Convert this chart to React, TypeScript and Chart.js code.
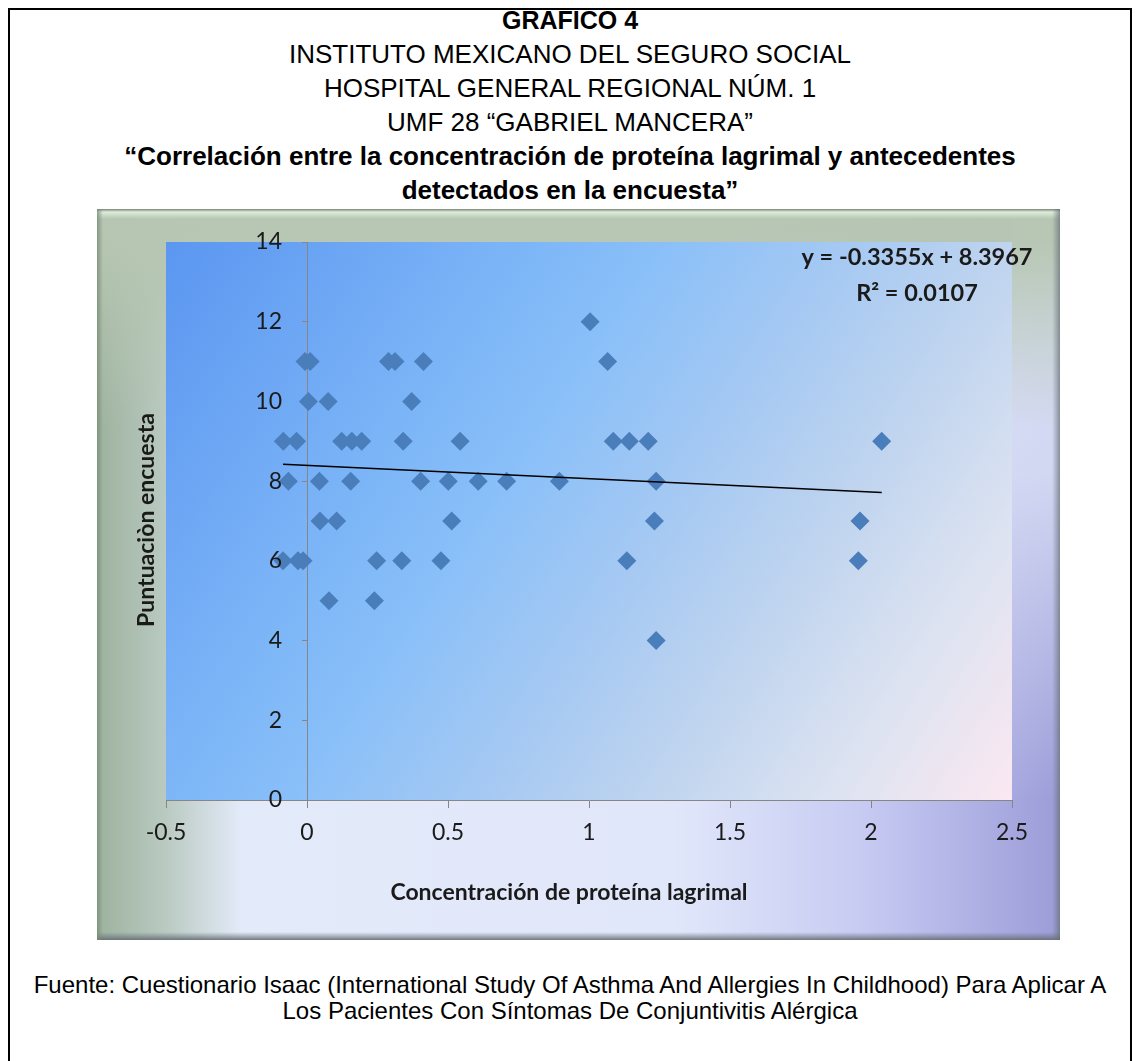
import React, { useEffect, useRef } from 'react';
import { Chart, registerables } from 'chart.js';

Chart.register(...registerables);

// ---- data ----
const concentracion: number[] = [
  -0.084, -0.037, 0.123, 0.159, 0.194, 0.341, 0.543, 1.086, 1.143, 1.21, 2.038,
  -0.066, 0.044, 0.155, 0.403, 0.501, 0.607, 0.708, 0.895, 1.238,
  0.046, 0.105, 0.513, 1.232, 1.961,
  -0.085, -0.032, -0.014, 0.247, 0.336, 0.475, 1.134, 1.955,
  0.078, 0.239,
  1.238,
  -0.007, 0.011, 0.289, 0.312, 0.413, 1.066,
  0.005, 0.075, 0.371,
  1.004,
];
const puntuacion: number[] = [
  9, 9, 9, 9, 9, 9, 9, 9, 9, 9, 9,
  8, 8, 8, 8, 8, 8, 8, 8, 8,
  7, 7, 7, 7, 7,
  6, 6, 6, 6, 6, 6, 6, 6,
  5, 5,
  4,
  11, 11, 11, 11, 11, 11,
  10, 10, 10,
  12,
];
const trendSlope = -0.3355;
const trendIntercept = 8.3967;
const equationLines = ['y = -0.3355x + 8.3967', 'R\u00B2 = 0.0107'];

const xTickValues = [-0.5, 0, 0.5, 1, 1.5, 2, 2.5];
const yTickValues = [0, 2, 4, 6, 8, 10, 12, 14];
const yTickLabels = ['0', '2', '4', '6', '8', '10', '12', '14'];

const xTitle = 'Concentración de proteína lagrimal';
const yTitle = 'Puntuaciòn encuesta';

const titleLines = [
  { text: 'GRAFICO 4', bold: true, size: 25 },
  { text: 'INSTITUTO MEXICANO DEL SEGURO SOCIAL', bold: false, size: 26 },
  { text: 'HOSPITAL GENERAL REGIONAL NÚM. 1', bold: false, size: 26 },
  { text: 'UMF 28 “GABRIEL MANCERA”', bold: false, size: 26 },
  { text: '“Correlación entre la concentración de proteína lagrimal y antecedentes', bold: true, size: 26 },
  { text: 'detectados en la encuesta”', bold: true, size: 26 },
];
const footerLines = [
  'Fuente: Cuestionario Isaac (International Study Of Asthma And Allergies In Childhood) Para Aplicar A',
  'Los Pacientes Con Síntomas De Conjuntivitis Alérgica',
];

const CHART_FONT = 'Lato, "Open Sans", sans-serif';
const PAGE_FONT = '"Liberation Sans", Arial, sans-serif';

const framePlugin = {
  id: 'frameBg',
  beforeDraw(chart: any) {
    const { ctx, width, height, chartArea: a } = chart;
    ctx.save();
    // base: green-grey at left, pale blue-white across, periwinkle at right
    let g = ctx.createLinearGradient(0, 0, width, 0);
    g.addColorStop(0, '#9db29e');
    g.addColorStop(0.07, '#b9c9c0');
    g.addColorStop(0.15, '#e3eaf9');
    g.addColorStop(0.6, '#e1e7fa');
    g.addColorStop(0.8, '#c6caf2');
    g.addColorStop(1, '#9c9cd8');
    ctx.fillStyle = g;
    ctx.fillRect(0, 0, width, height);
    // right band: lighter higher up
    g = ctx.createLinearGradient(0, 0, 0, a.bottom);
    g.addColorStop(0, 'rgba(222,229,248,0.95)');
    g.addColorStop(0.45, 'rgba(222,229,248,0.8)');
    g.addColorStop(1, 'rgba(222,229,248,0)');
    ctx.fillStyle = g;
    ctx.fillRect(a.right, 0, width - a.right, a.bottom);
    // top band
    g = ctx.createLinearGradient(0, 0, 0, height);
    g.addColorStop(0, 'rgba(182,198,178,1)');
    g.addColorStop(0.05, 'rgba(182,198,178,0.95)');
    g.addColorStop(0.3, 'rgba(182,198,178,0)');
    ctx.fillStyle = g;
    ctx.fillRect(0, 0, width, height);
    // bevel edges
    g = ctx.createLinearGradient(0, 0, 0, 10);
    g.addColorStop(0, 'rgba(120,132,120,1)');
    g.addColorStop(0.3, 'rgba(222,236,218,1)');
    g.addColorStop(1, 'rgba(222,236,218,0)');
    ctx.fillStyle = g;
    ctx.fillRect(0, 0, width, 10);
    g = ctx.createLinearGradient(0, height - 8, 0, height);
    g.addColorStop(0, 'rgba(110,120,130,0)');
    g.addColorStop(1, 'rgba(100,110,115,0.9)');
    ctx.fillStyle = g;
    ctx.fillRect(0, height - 8, width, 8);
    g = ctx.createLinearGradient(width - 8, 0, width, 0);
    g.addColorStop(0, 'rgba(110,120,130,0)');
    g.addColorStop(1, 'rgba(100,110,115,0.7)');
    ctx.fillStyle = g;
    ctx.fillRect(width - 8, 0, 8, height);
    g = ctx.createLinearGradient(0, 0, 6, 0);
    g.addColorStop(0, 'rgba(120,140,120,0.8)');
    g.addColorStop(1, 'rgba(120,140,120,0)');
    ctx.fillStyle = g;
    ctx.fillRect(0, 0, 6, height);
    // plot area
    g = ctx.createLinearGradient(a.left, a.top, a.right, a.bottom);
    g.addColorStop(0, '#5b96f1');
    g.addColorStop(0.3, '#7db6f7');
    g.addColorStop(0.4, '#88bff9');
    g.addColorStop(0.55, '#a3c8f3');
    g.addColorStop(0.7, '#bfd4ef');
    g.addColorStop(0.85, '#dde3f1');
    g.addColorStop(1, '#fbe8f1');
    ctx.fillStyle = g;
    ctx.fillRect(a.left, a.top, a.right - a.left, a.bottom - a.top);
    ctx.restore();
  },
  afterDraw(chart: any) {
    const { ctx } = chart;
    const xs = chart.scales.x;
    const ys = chart.scales.y;
    // y tick labels, placed from the scales, clear of the axis line at x = 0
    ctx.save();
    ctx.fillStyle = '#1a1a1a';
    ctx.textAlign = 'right';
    ctx.textBaseline = 'middle';
    ctx.font = `23px ${CHART_FONT}`;
    const axisX = xs.getPixelForValue(0);
    yTickValues.forEach((v, i) => {
      ctx.fillText(yTickLabels[i], axisX - 25, ys.getPixelForValue(v));
    });
    ctx.restore();
    // axis titles
    ctx.save();
    ctx.fillStyle = '#1a1a1a';
    ctx.textAlign = 'center';
    ctx.textBaseline = 'middle';
    ctx.font = `bold 23px ${CHART_FONT}`;
    ctx.fillText(xTitle, 472, 684);
    ctx.translate(50, 311);
    ctx.rotate(-Math.PI / 2);
    ctx.fillText(yTitle, 0, 0);
    ctx.restore();
    // trendline equation
    ctx.save();
    ctx.fillStyle = '#1a1a1a';
    ctx.textAlign = 'center';
    ctx.textBaseline = 'middle';
    ctx.font = `bold 23.5px ${CHART_FONT}`;
    ctx.fillText(equationLines[0], 820, 48);
    ctx.fillText(equationLines[1], 820, 84);
    ctx.restore();
  },
};

function ScatterChart() {
  const ref = useRef<HTMLCanvasElement | null>(null);
  useEffect(() => {
    if (!ref.current) return;
    const pts = concentracion.map((x, i) => ({ x, y: puntuacion[i] }));
    const xMin = Math.min(...concentracion);
    const xMax = Math.max(...concentracion);
    const trend = [
      { x: xMin, y: trendSlope * xMin + trendIntercept },
      { x: xMax, y: trendSlope * xMax + trendIntercept },
    ];
    const chart = new Chart(ref.current, {
      type: 'scatter',
      data: {
        datasets: [
          {
            label: 'Tendencia',
            data: trend,
            showLine: true,
            borderColor: '#000000',
            borderWidth: 1.5,
            pointRadius: 0,
            fill: false,
          } as any,
          {
            label: 'Puntuación',
            data: pts,
            pointStyle: 'rectRot',
            pointRadius: 9.5,
            pointBackgroundColor: '#4a7ebb',
            pointBorderWidth: 0,
            backgroundColor: '#4a7ebb',
            borderColor: '#4a7ebb',
          } as any,
        ],
      },
      options: {
        responsive: false,
        animation: false,
        devicePixelRatio: 1,
        layout: { padding: { left: 69, right: 48, top: 33, bottom: 0 } },
        plugins: { legend: { display: false }, tooltip: { enabled: false } },
        scales: {
          x: {
            type: 'linear',
            position: 'bottom',
            min: -0.5,
            max: 2.5,
            afterBuildTicks: (s: any) => {
              s.ticks = xTickValues.map((v) => ({ value: v }));
            },
            afterFit: (s: any) => {
              s.height = 140;
            },
            grid: { drawOnChartArea: false, drawTicks: true, tickLength: 8, color: '#868686' },
            border: { display: true, color: '#868686', width: 1 },
            ticks: {
              padding: 11,
              color: '#1a1a1a',
              font: { family: CHART_FONT, size: 23 },
              maxRotation: 0,
              callback: (v: any) => String(v),
            },
          },
          y: {
            type: 'linear',
            position: { x: 0 } as any,
            min: 0,
            max: 14,
            afterBuildTicks: (s: any) => {
              s.ticks = yTickValues.map((v) => ({ value: v }));
            },
            afterFit: (s: any) => {
              s.width = 0;
            },
            grid: { drawOnChartArea: false, drawTicks: true, tickLength: 5, color: '#868686' },
            border: { display: true, color: '#868686', width: 1 },
            ticks: { display: false },
          },
        },
      },
      plugins: [framePlugin],
    });
    return () => chart.destroy();
  }, []);
  return (
    <canvas
      ref={ref}
      width={963}
      height={731}
      style={{ position: 'absolute', left: 89, top: 201, width: 963, height: 731 }}
    />
  );
}

export default function App() {
  useEffect(() => {
    document.documentElement.style.overflow = 'hidden';
    document.body.style.overflow = 'hidden';
  }, []);
  const titleCenters = [20, 54, 88, 122, 156, 190];
  const footerCenters = [985, 1011];
  return (
    <div style={{ position: 'relative', width: 1124, height: 1100 }}>
      <div
        style={{
          position: 'absolute',
          left: 0,
          top: 0,
          width: 1124,
          height: 1100,
          border: '2px solid #000',
          boxSizing: 'border-box',
        }}
      />
      {titleLines.map((t, i) => (
        <div
          key={i}
          style={{
            position: 'absolute',
            left: 0,
            width: 1124,
            top: titleCenters[i] - 8 - 15,
            height: 30,
            lineHeight: '30px',
            textAlign: 'center',
            fontFamily: PAGE_FONT,
            fontSize: t.size,
            fontWeight: t.bold ? 'bold' : 'normal',
            color: '#000',
            whiteSpace: 'nowrap',
          }}
        >
          {t.text}
        </div>
      ))}
      <ScatterChart />
      {footerLines.map((t, i) => (
        <div
          key={i}
          style={{
            position: 'absolute',
            left: 0,
            width: 1124,
            top: footerCenters[i] - 8 - 14,
            height: 28,
            lineHeight: '28px',
            textAlign: 'center',
            fontFamily: PAGE_FONT,
            fontSize: 24,
            color: '#000',
            whiteSpace: 'nowrap',
          }}
        >
          {t}
        </div>
      ))}
    </div>
  );
}
